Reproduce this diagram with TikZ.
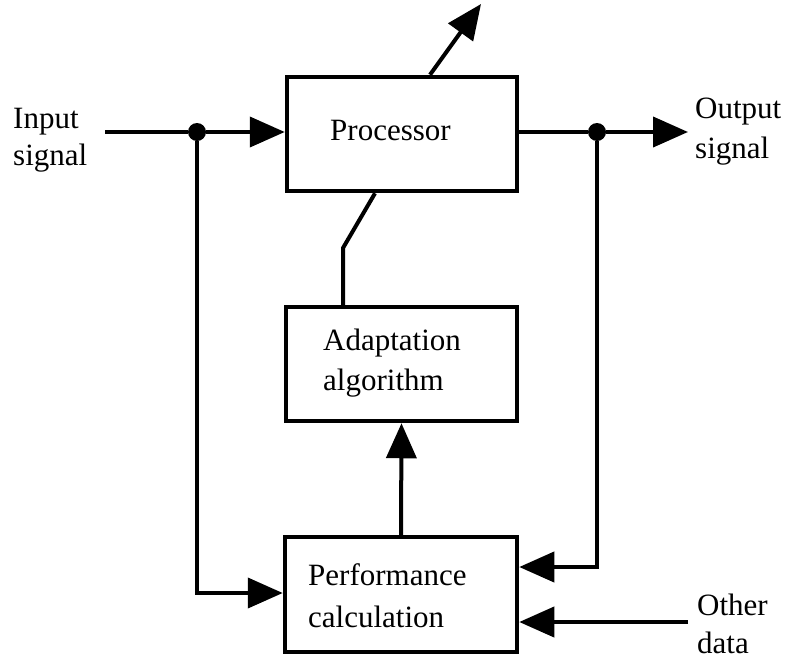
\documentclass[tikz,border=0pt]{standalone}
\usepackage{fontspec}
\setmainfont{Liberation Serif}
\usetikzlibrary{arrows.meta}
\begin{document}
\begin{tikzpicture}[x=1pt,y=-1pt,
  blk/.style={draw,line width=4.5pt,rectangle,inner sep=0pt},
  lbl/.style={anchor=base west,inner sep=0pt,font=\fontsize{31}{36}\selectfont},
  conn/.style={line width=4pt},
  arr/.style={conn,-{Triangle[length=35pt,width=30pt]}},
  dot/.style={circle,fill=black,inner sep=0pt,minimum size=18pt}]
\useasboundingbox (0,0) rectangle (789,659);
% blocks
\node[blk,minimum width=230pt,minimum height=114pt] (proc) at (402,134) {};
\node[blk,minimum width=231pt,minimum height=114pt] (adapt) at (401.5,364) {};
\node[blk,minimum width=232pt,minimum height=115pt] (perf) at (401,594.5) {};
% texts
\node[lbl] (tproc) at (330,140) {Processor};
\node[lbl] (tad1) at (323,350) {Adaptation};
\node[lbl] (tad2) at (323,390) {algorithm};
\node[lbl] (tpf1) at (308,585) {Performance};
\node[lbl] (tpf2) at (308,627) {calculation};
\node[lbl] (tin1) at (13,128) {Input};
\node[lbl] (tin2) at (13,165) {signal};
\node[lbl] (tout1) at (695,118) {Output};
\node[lbl] (tout2) at (695,158) {signal};
\node[lbl] (toth1) at (697,615) {Other};
\node[lbl] (toth2) at (697,653) {data};
% coordinates
\coordinate (inStart) at (105,132);
\coordinate (outEnd) at (688,132);
\coordinate (othStart) at (688,622);
\coordinate (topEnd) at (481,4);
\coordinate (bend) at (343,248);
\node[dot] (inDot) at (197,132) {};
\node[dot] (outDot) at (597,132) {};
% connectors
\draw[conn] (inStart) -- (inDot);
\draw[arr] (inDot) -- (proc.west |- inDot);
\draw[arr] (inDot) |- (perf.west |- 0,593);
\draw[conn] (proc.east |- outDot) -- (outDot);
\draw[arr] (outDot) -- (outEnd);
\draw[arr] (outDot) |- (perf.east |- 0,567);
\draw[arr] (othStart) -- (perf.east |- othStart);
\draw[arr] (perf.north) -- (adapt.south);
\draw[arr] (proc.north -| 430,0) -- (topEnd);
\draw[conn] (proc.south -| 375,0) -- (bend) -- (adapt.north -| bend);
\end{tikzpicture}
\end{document}
